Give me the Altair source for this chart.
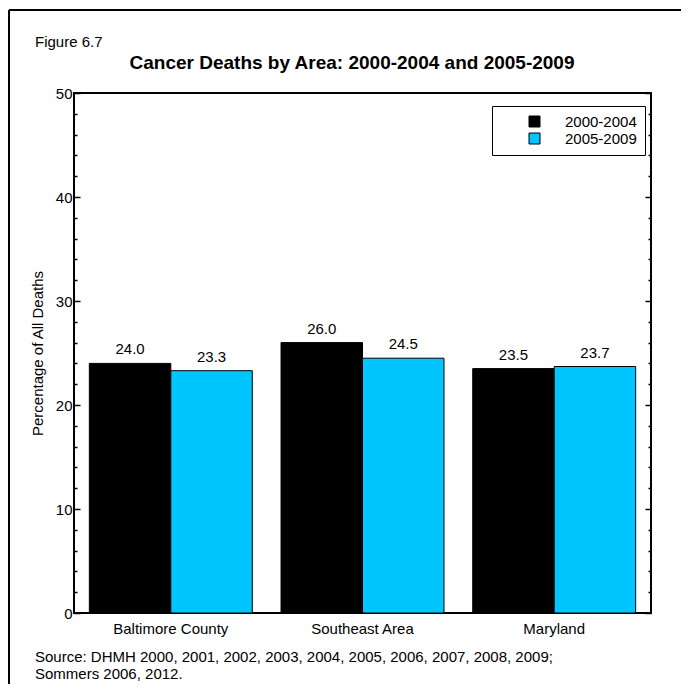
import altair as alt
import pandas as pd

AREAS = ["Baltimore County", "Southeast Area", "Maryland"]
PERIODS = ["2000-2004", "2005-2009"]
VALUES_2000_2004 = [24.0, 26.0, 23.5]
VALUES_2005_2009 = [23.3, 24.5, 23.7]
COLORS = ["#000000", "#00C5FF"]
MAJOR_TICKS = [0, 10, 20, 30, 40, 50]
MINOR_TICKS = [2, 4, 6, 8, 12, 14, 16, 18, 22, 24, 26, 28, 32, 34, 36, 38, 42, 44, 46, 48]
TITLE = "Cancer Deaths by Area: 2000-2004 and 2005-2009"
FIGURE_LABEL = "Figure 6.7"
SOURCE_LINES = ["Source: DHMH 2000, 2001, 2002, 2003, 2004, 2005, 2006, 2007, 2008, 2009;",
                "Sommers 2006, 2012."]
Y_TITLE = "Percentage of All Deaths"

FONT = "Liberation Sans, Arial, sans-serif"
W, H = 577, 520

rows = []
for a, v1, v2 in zip(AREAS, VALUES_2000_2004, VALUES_2005_2009):
    rows.append({"area": a, "period": PERIODS[0], "value": v1})
    rows.append({"area": a, "period": PERIODS[1], "value": v2})
df = pd.DataFrame(rows)

yscale = alt.Scale(domain=[0, 50], nice=False, zero=True)
xenc = alt.X("area:N", sort=AREAS,
             scale=alt.Scale(paddingInner=0.15, paddingOuter=0.08),
             axis=alt.Axis(title=None, labelAngle=0, ticks=False, domain=False,
                           labelPadding=8, labelFontSize=15, labelFont=FONT,
                           labelColor="black"))
xoff = alt.XOffset("period:N", sort=PERIODS, scale=alt.Scale(paddingInner=0, paddingOuter=0))

base = alt.Chart(df)

bars = base.mark_bar(stroke="black", strokeWidth=1).encode(
    x=xenc,
    xOffset=xoff,
    y=alt.Y("value:Q", scale=yscale,
            axis=alt.Axis(orient="left", values=MAJOR_TICKS, ticks=False, domain=False,
                          grid=False, labelPadding=2, labelFontSize=15, labelFont=FONT,
                          labelColor="black", title=Y_TITLE, titleFontSize=15,
                          titleFont=FONT, titleFontWeight="normal", titleColor="black",
                          titlePadding=10)),
    color=alt.Color("period:N", sort=PERIODS,
                    scale=alt.Scale(domain=PERIODS, range=COLORS),
                    legend=alt.Legend(title=None, orient="none", legendX=418, legendY=13,
                                      strokeColor="black", fillColor="white", padding=8,
                                      symbolType="square", symbolSize=121,
                                      symbolStrokeColor="black", symbolStrokeWidth=1,
                                      symbolOffset=27, labelOffset=23,
                                      labelFontSize=15, labelFont=FONT, labelColor="black",
                                      rowPadding=1)),
)

labels = base.mark_text(baseline="bottom", dy=-6, fontSize=15, font=FONT, color="black").encode(
    x=xenc,
    xOffset=xoff,
    y=alt.Y("value:Q", scale=yscale, axis=None),
    text=alt.Text("value:Q", format=".1f"),
)


def tick_layer(orient, values, size):
    return base.mark_point(opacity=0).encode(
        y=alt.Y("value:Q", scale=yscale,
                axis=alt.Axis(orient=orient, offset=-W, values=values, tickSize=size,
                              tickColor="black", tickWidth=1.5, labels=False,
                              domain=False, grid=False, title=None))
    )


ticks_l_major = tick_layer("right", MAJOR_TICKS, 6)
ticks_l_minor = tick_layer("right", MINOR_TICKS, 3)
ticks_r_major = tick_layer("left", MAJOR_TICKS, 6)
ticks_r_minor = tick_layer("left", MINOR_TICKS, 3)

one = alt.Data(values=[{"k": 1}])
frame_top = alt.Chart(one).mark_rule(color="black", strokeWidth=2).encode(
    x=alt.value(-65), x2=alt.value(607), y=alt.value(-83))
frame_left = alt.Chart(one).mark_rule(color="black", strokeWidth=2).encode(
    x=alt.value(-65), y=alt.value(-83), y2=alt.value(591))

fig_label = alt.Chart(one).mark_text(align="left", baseline="middle", fontSize=15,
                                     font=FONT, color="black").encode(
    x=alt.value(-39), y=alt.value(-51), text=alt.value(FIGURE_LABEL))
title = alt.Chart(one).mark_text(align="center", baseline="middle", fontSize=19,
                                 fontWeight="bold", font=FONT, color="black").encode(
    x=alt.value(278), y=alt.value(-30), text=alt.value(TITLE))
source = alt.Chart(one).mark_text(align="left", baseline="top", fontSize=15, lineHeight=17,
                                  font=FONT, color="black").encode(
    x=alt.value(-39), y=alt.value(557), text=alt.value(SOURCE_LINES))

chart = alt.layer(
    bars, labels, ticks_l_major, ticks_l_minor, ticks_r_major, ticks_r_minor,
    frame_top, frame_left, fig_label, title, source
).resolve_scale(y="shared").resolve_axis(y="independent").properties(
    width=W, height=H,
    autosize=alt.AutoSizeParams(type="none"),
    padding={"left": 66, "top": 85, "right": 30, "bottom": 71},
).configure(
    background="white",
    view=alt.ViewConfig(stroke="black", strokeWidth=2),
)

chart.save("out.html", embed_options={"renderer": "svg", "actions": False})
